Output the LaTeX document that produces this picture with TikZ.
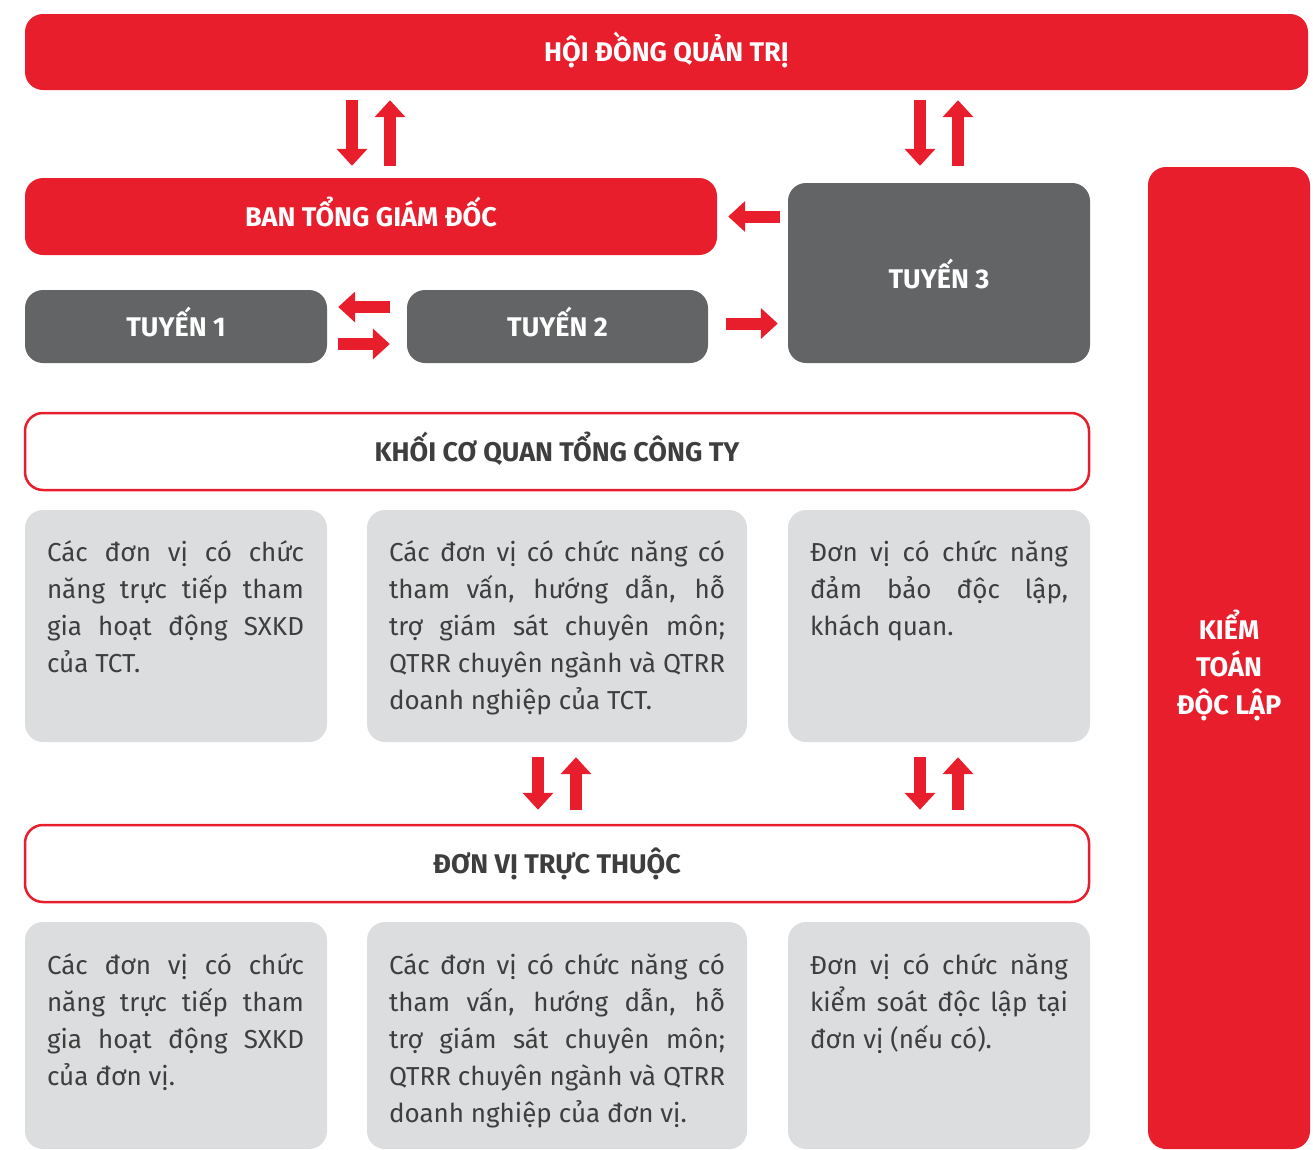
\documentclass[tikz,border=0pt]{standalone}
\usepackage{fontspec}
\setmainfont{Fira Sans}
\usetikzlibrary{arrows.meta}
\definecolor{hdred}{RGB}{232,30,45}
\definecolor{darkgray}{RGB}{99,100,102}
\definecolor{lightgray}{RGB}{220,221,223}
\definecolor{textgray}{RGB}{62,62,62}

\begin{document}
\begin{tikzpicture}[x=1pt,y=-1pt,
    head/.style={rounded corners=18pt, inner sep=0pt, text height=19pt, text depth=0pt, font=\fontsize{27pt}{30pt}\selectfont\bfseries},
    redbox/.style={head, fill=hdred, text=white},
    graybox/.style={head, fill=darkgray, text=white},
    whitebox/.style={head, draw=hdred, line width=2.5pt, fill=white, text=textgray},
    infobox/.style={rounded corners=18pt, fill=lightgray, inner sep=0pt},
    info/.style={anchor=north west, inner sep=0pt, align=justify, text=textgray, font=\fontsize{26pt}{37pt}\selectfont},
    bigarrow/.style={draw=hdred, line width=12pt, -{Triangle[width=30pt,length=17pt]}}]
    \useasboundingbox (0,0) rectangle (1313,1149);
    % top level
    \node[redbox, minimum width=1283pt, minimum height=76pt] (hdqt) at (666.5,52) {HỘI ĐỒNG QUẢN TRỊ};
    \node[redbox, minimum width=692pt, minimum height=77pt] (ban) at (371,216.5) {BAN TỔNG GIÁM ĐỐC};
    \node[graybox, text height=31pt, minimum width=302pt, minimum height=180pt] (tuyen3) at (939,273) {TUYẾN 3};
    \node[graybox, minimum width=302pt, minimum height=73pt] (tuyen1) at (176,326.5) {TUYẾN 1};
    \node[graybox, minimum width=301pt, minimum height=73pt] (tuyen2) at (557.5,326.5) {TUYẾN 2};
    \node[redbox, minimum width=162pt, minimum height=982pt] (kiemtoan) at (1229,658) {};
    \node[text=white, align=center, inner sep=0pt, font=\fontsize{27pt}{37.5pt}\selectfont\bfseries] (ktlabel) at ([yshift=-7pt]kiemtoan.center) {KIỂM\\TOÁN\\ĐỘC LẬP};

    % khoi co quan
    \node[whitebox, minimum width=1064pt, minimum height=77pt] (khoi) at (557,451.5) {KHỐI CƠ QUAN TỔNG CÔNG TY};
    \node[infobox, minimum width=302pt, minimum height=232pt] (b1) at (176,626) {};
    \node[infobox, minimum width=380pt, minimum height=232pt] (b2) at (557,626) {};
    \node[infobox, minimum width=302pt, minimum height=232pt] (b3) at (939,626) {};
    \node[info, text width=257pt] (t1) at ([shift={(22pt,-25pt)}]b1.north west) {\rule{0pt}{26pt}Các đơn vị có chức\linebreak năng trực tiếp tham\linebreak gia hoạt động SXKD\linebreak của TCT.};
    \node[info, text width=336pt] (t2) at ([shift={(22pt,-25pt)}]b2.north west) {\rule{0pt}{26pt}Các đơn vị có chức năng có\linebreak tham vấn, hướng dẫn, hỗ\linebreak trợ giám sát chuyên môn;\linebreak QTRR chuyên ngành và QTRR\linebreak doanh nghiệp của TCT.};
    \node[info, text width=258pt] (t3) at ([shift={(22pt,-25pt)}]b3.north west) {\rule{0pt}{26pt}Đơn vị có chức năng\linebreak đảm bảo độc lập,\linebreak khách quan.};

    % don vi truc thuoc
    \node[whitebox, minimum width=1064pt, minimum height=77pt] (donvi) at (557,863.5) {ĐƠN VỊ TRỰC THUỘC};
    \node[infobox, minimum width=302pt, minimum height=227pt] (c1) at (176,1035.5) {};
    \node[infobox, minimum width=380pt, minimum height=227pt] (c2) at (557,1035.5) {};
    \node[infobox, minimum width=302pt, minimum height=227pt] (c3) at (939,1035.5) {};
    \node[info, text width=257pt] (u1) at ([shift={(22pt,-26pt)}]c1.north west) {\rule{0pt}{26pt}Các đơn vị có chức\linebreak năng trực tiếp tham\linebreak gia hoạt động SXKD\linebreak của đơn vị.};
    \node[info, text width=336pt] (u2) at ([shift={(22pt,-26pt)}]c2.north west) {\rule{0pt}{26pt}Các đơn vị có chức năng có\linebreak tham vấn, hướng dẫn, hỗ\linebreak trợ giám sát chuyên môn;\linebreak QTRR chuyên ngành và QTRR\linebreak doanh nghiệp của đơn vị.};
    \node[info, text width=258pt] (u3) at ([shift={(22pt,-26pt)}]c3.north west) {\rule{0pt}{26pt}Đơn vị có chức năng\linebreak kiểm soát độc lập tại\linebreak đơn vị (nếu có).};

    % arrows
    \draw[bigarrow, shorten <=10pt, shorten >=12pt] ([xshift=-19pt]ban.north |- hdqt.south) -- ([xshift=-19pt]ban.north);
    \draw[bigarrow, shorten <=12pt, shorten >=10pt] ([xshift=19pt]ban.north) -- ([xshift=19pt]ban.north |- hdqt.south);
    \draw[bigarrow, shorten <=10pt, shorten >=17pt] ([xshift=-19pt]tuyen3.north |- hdqt.south) -- ([xshift=-19pt]tuyen3.north);
    \draw[bigarrow, shorten <=17pt, shorten >=10pt] ([xshift=19pt]tuyen3.north) -- ([xshift=19pt]tuyen3.north |- hdqt.south);
    \draw[bigarrow, shorten <=8pt, shorten >=11pt] (tuyen3.west |- ban.east) -- (ban.east);
    \draw[bigarrow, shorten <=18pt, shorten >=10pt] ([yshift=3pt]tuyen2.east) -- ([yshift=3pt]tuyen3.west |- tuyen2.east);
    \draw[bigarrow, shorten <=17pt, shorten >=11pt] ([yshift=19.5pt]tuyen2.west) -- ([yshift=19.5pt]tuyen1.east);
    \draw[bigarrow, shorten <=11pt, shorten >=17pt] ([yshift=-17.5pt]tuyen1.east) -- ([yshift=-17.5pt]tuyen2.west);
    \draw[bigarrow, shorten <=15pt, shorten >=14pt] ([xshift=-19pt]b2.south) -- ([xshift=-19pt]b2.south |- donvi.north);
    \draw[bigarrow, shorten <=14pt, shorten >=15pt] ([xshift=19pt]b2.south |- donvi.north) -- ([xshift=19pt]b2.south);
    \draw[bigarrow, shorten <=15pt, shorten >=14pt] ([xshift=-19pt]b3.south) -- ([xshift=-19pt]b3.south |- donvi.north);
    \draw[bigarrow, shorten <=14pt, shorten >=15pt] ([xshift=19pt]b3.south |- donvi.north) -- ([xshift=19pt]b3.south);
\end{tikzpicture}
\end{document}
